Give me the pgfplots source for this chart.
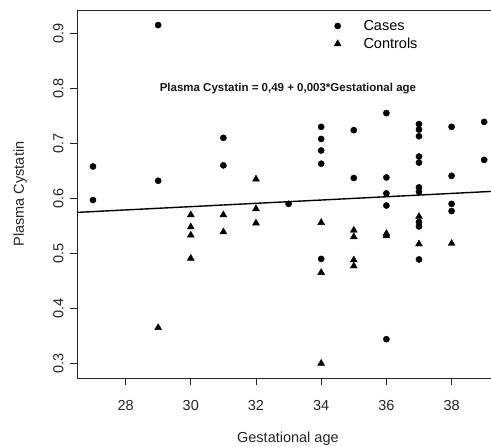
\documentclass[border=0pt]{standalone}
\usepackage{pgfplots}
\pgfplotsset{compat=1.18}
\usepackage{fontspec}
\setmainfont{Liberation Sans}
\pgfplotsset{myleg/.style={legend image code/.code={\path (0cm,0cm) (1.13cm,0cm);\draw[##1,mark repeat=2,mark phase=2] plot coordinates {(0cm,0cm) (0.3cm,0cm) (1.13cm,0cm)};}}}
\begin{document}
\begin{tikzpicture}
\begin{axis}[
  scale only axis,
  width=416pt, height=368pt,
  xmin=26.51, xmax=39.27,
  ymin=0.2735, ymax=0.9424,
  xtick={28,30,32,34,36,38},
  ytick={0.3,0.4,0.5,0.6,0.7,0.8,0.9},
  yticklabels={0.3,0.4,0.5,0.6,0.7,0.8,0.9},
  tick pos=left,
  tick align=outside,
  major tick length=7pt,
  axis line style={line width=0.8pt, black!85},
  tick style={line width=0.8pt, black!85},
  /pgf/number format/assume math mode=true,
  tick label style={font=\fontsize{14.5}{17}\selectfont, text=black!85},
  xticklabel style={yshift=-12pt},
  yticklabel style={rotate=90, anchor=south, yshift=3pt},
  label style={font=\fontsize{14.5}{17}\selectfont, text=black!85},
  xlabel={Gestational age},
  ylabel={Plasma Cystatin},
  xlabel style={at={(axis description cs:0.507,-0.1766)}, anchor=base},
  ylabel style={at={(axis description cs:-0.137,0.5)}, anchor=center},
  legend style={draw=none, fill=none, font=\fontsize{14.5}{17}\selectfont,
    at={(axis cs:34.14,0.9315)}, anchor=north west, row sep=2pt},
  legend cell align=left,
]
\addplot[only marks, mark=*, mark size=3.1pt, black, myleg] table {
x y
27 0.658
27 0.597
29 0.915
29 0.632
31 0.710
31 0.660
33 0.590
34 0.730
34 0.708
34 0.687
34 0.663
34 0.490
35 0.724
35 0.637
36 0.755
36 0.638
36 0.609
36 0.587
36 0.344
37 0.735
37 0.725
37 0.713
37 0.676
37 0.665
37 0.620
37 0.612
37 0.557
37 0.549
37 0.489
38 0.730
38 0.641
38 0.590
38 0.577
39 0.739
39 0.670
};
\addlegendentry{Cases}
\addplot[only marks, mark=triangle*, mark size=4pt, black, myleg] table {
x y
29 0.365
30 0.570
30 0.548
30 0.533
30 0.491
31 0.570
31 0.539
32 0.635
32 0.581
32 0.555
34 0.556
34 0.465
34 0.300
35 0.542
35 0.530
35 0.488
35 0.477
36 0.536
36 0.532
37 0.567
37 0.517
38 0.518
};
\addlegendentry{Controls}
\addplot[black, line width=1.4pt, forget plot] coordinates {(26.51,0.5745) (39.27,0.6128)};
\node[font=\fontsize{11.5}{13}\selectfont\bfseries, text=black!90] at (axis cs:32.98,0.800) {Plasma Cystatin = 0,49 + 0,003*Gestational age};
\end{axis}
\pgfresetboundingbox
\path[use as bounding box] ([xshift=-77pt,yshift=-69pt]current axis.south west) rectangle ([xshift=-2pt,yshift=10pt]current axis.north east);
\end{tikzpicture}
\end{document}
